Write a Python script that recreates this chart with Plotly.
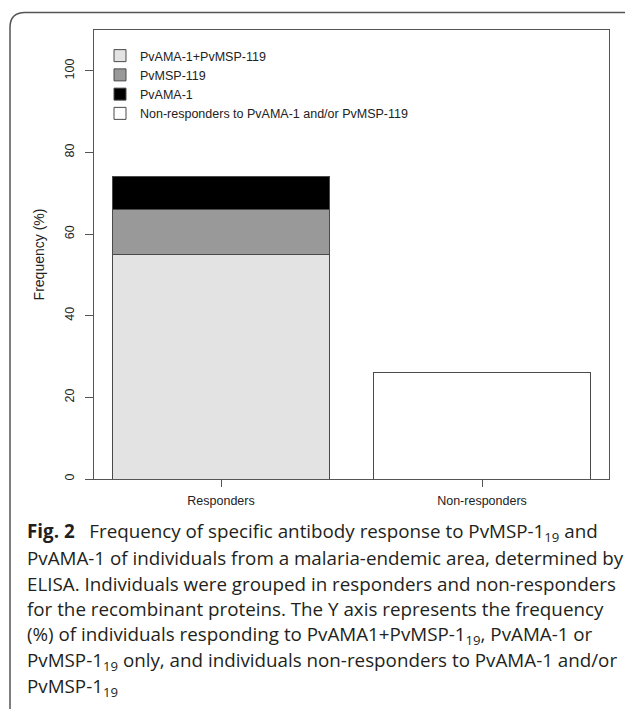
import plotly.graph_objects as go

categories = ["Responders", "Non-responders"]
series_names = ["PvAMA-1+PvMSP-119", "PvMSP-119", "PvAMA-1",
                "Non-responders to PvAMA-1 and/or PvMSP-119"]
series_values = [
    [55, 0],   # PvAMA-1+PvMSP-119
    [11, 0],   # PvMSP-119
    [8, 0],    # PvAMA-1
    [0, 26],   # Non-responders
]
series_colors = ["#e3e3e3", "#999999", "#000000", "#ffffff"]
y_ticks = [0, 20, 40, 60, 80, 100]

caption_lines = [
    "<b>Fig. 2</b>\u00a0\u00a0\u00a0Frequency of specific antibody response to PvMSP-1<sub>19</sub> and",
    "PvAMA-1 of individuals from a malaria-endemic area, determined by",
    "ELISA. Individuals were grouped in responders and non-responders",
    "for the recombinant proteins. The Y axis represents the frequency",
    "(%) of individuals responding to PvAMA1+PvMSP-1<sub>19</sub>, PvAMA-1 or",
    "PvMSP-1<sub>19</sub> only, and individuals non-responders to PvAMA-1 and/or",
    "PvMSP-1<sub>19</sub>",
]

W, H = 625, 709
L, R, T, B = 94, 609, 30, 479
pw, ph = R - L, B - T

def px(x):
    return (x - L) / pw

def py(y):
    return (B - y) / ph

fig = go.Figure()
for name, vals, col in zip(series_names, series_values, series_colors):
    xs = [c for c, v in zip(categories, vals) if v > 0]
    ys = [v for v in vals if v > 0]
    fig.add_trace(go.Bar(
        x=xs, y=ys, name=name, width=0.831,
        marker=dict(color=col, line=dict(color="#4a4a4a", width=1)),
    ))

axis_font = dict(family="Liberation Sans, Arial, sans-serif", size=12.5, color="#222")
fig.update_layout(
    width=W, height=H,
    barmode="stack",
    paper_bgcolor="white", plot_bgcolor="white",
    margin=dict(l=L, r=W - R, t=T, b=H - B, pad=0),
    showlegend=True,
    legend=dict(
        x=px(100), y=py(41), xanchor="left", yanchor="top",
        traceorder="normal", bgcolor="rgba(0,0,0,0)",
        font=dict(family="Liberation Sans, Arial, sans-serif", size=12.5, color="#222"),
        tracegroupgap=0,
    ),
    xaxis=dict(
        type="category", categoryorder="array", categoryarray=categories,
        range=[-0.4866, 1.4866],
        showline=True, linecolor="#555", linewidth=1, mirror=True,
        ticks="outside", ticklen=7, tickcolor="#555",
        ticklabelstandoff=3,
        tickfont=axis_font, showgrid=False, zeroline=False,
    ),
    yaxis=dict(
        range=[0, 110], tickvals=y_ticks, ticktext=[str(v) for v in y_ticks],
        tickangle=-90,
        showline=True, linecolor="#555", linewidth=1, mirror=True,
        ticks="outside", ticklen=8, tickcolor="#555",
        ticklabelstandoff=6,
        tickfont=axis_font, showgrid=False, zeroline=False,
        title=dict(text="Frequency (%)", font=dict(family="Liberation Sans, Arial, sans-serif", size=14, color="#222"), standoff=15),
    ),
)

# outer frame (rounded top-left)
x0, yt, xr, yb = px(10), py(12.5), px(625), py(709)
rx, ry = 15 / pw, 15 / ph
fig.add_shape(
    type="path", xref="paper", yref="paper",
    path=f"M {x0},{yb} L {x0},{yt - ry} Q {x0},{yt} {x0 + rx},{yt} L {xr},{yt}",
    line=dict(color="#555", width=1.5),
)

line_y0, line_dy = 532, 25.8
for i, t in enumerate(caption_lines):
    fig.add_annotation(
        text=t, xref="paper", yref="paper", x=px(25), y=py(line_y0 + i * line_dy),
        xanchor="left", yanchor="middle", showarrow=False, align="left",
        font=dict(family="Open Sans, Noto Sans, sans-serif", size=18.8, color="#231f20"),
    )

fig.write_html(
    "out.html",
    config={"displayModeBar": False},
    post_script="document.body.style.margin='0';document.body.style.overflow='hidden';",
)
